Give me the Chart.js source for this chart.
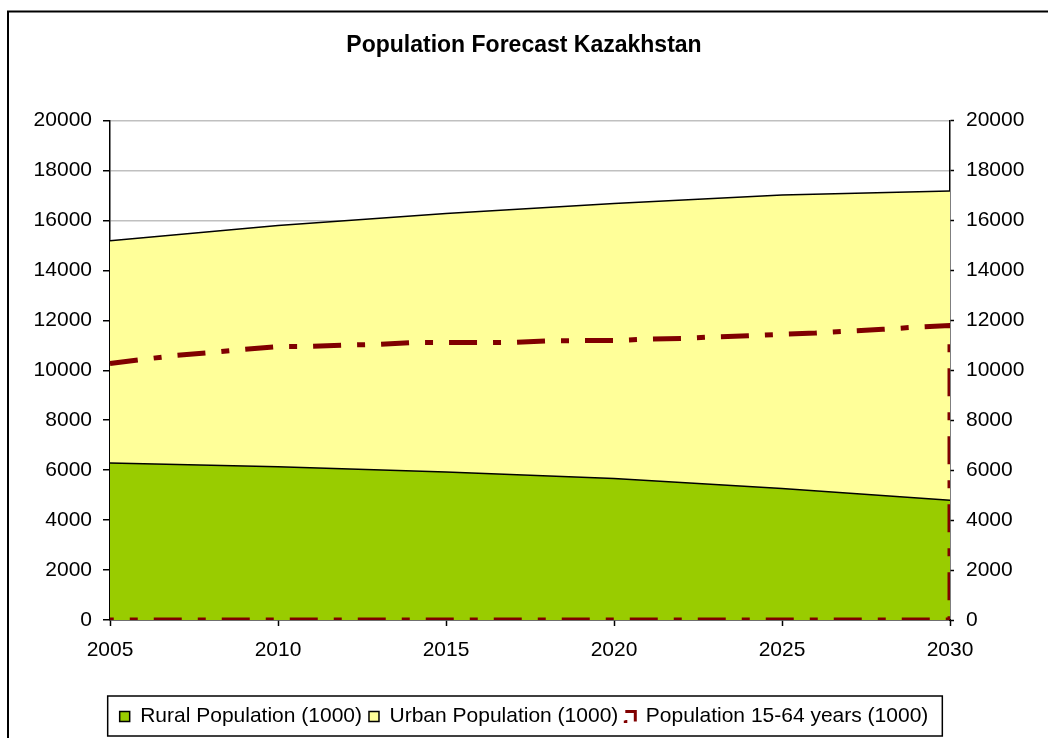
<!DOCTYPE html>
<html lang="en">
<head>
  <meta charset="UTF-8">
  <title>Population Forecast Kazakhstan</title>
  <script src="https://cdn.jsdelivr.net/npm/chart.js"></script>
  <style>
    body {
      margin: 0;
      padding: 0;
      background: #fff;
    }
    canvas {
      display: block;
    }
  </style>
</head>
<body>
  <canvas id="popChart" width="1048" height="738"></canvas>

  <script>
    // Five-year points for the stacked areas
    const areaYears = [2005, 2010, 2015, 2020, 2025, 2030];
    const ruralPop = [6290, 6140, 5930, 5670, 5270, 4800];
    const urbanPop = [8900, 9660, 10350, 11010, 11750, 12380];

    // Yearly points for the working-age line
    const workYears = [2005, 2006, 2007, 2008, 2009, 2010, 2011, 2012, 2013, 2014, 2015, 2016, 2017,
      2018, 2019, 2020, 2021, 2022, 2023, 2024, 2025, 2026, 2027, 2028, 2029, 2030];
    const workPop = [10270, 10440, 10600, 10710, 10840, 10950, 10960, 11010, 11040, 11110, 11110, 11110, 11120,
      11180, 11190, 11190, 11250, 11270, 11340, 11380, 11440, 11490, 11570, 11640, 11730, 11790];

    const yTicks = [0, 2000, 4000, 6000, 8000, 10000, 12000, 14000, 16000, 18000, 20000];
    const xTicks = [2005, 2010, 2015, 2020, 2025, 2030];

    const FONT = "'Liberation Sans', Arial, sans-serif";

    // Excel draws the unfilled area's border all the way round, so close it along the base
    const workPoints = workYears.map((x, i) => ({ x, y: workPop[i] }));
    workPoints.push({ x: workYears[workYears.length - 1], y: 0 });
    workPoints.push({ x: workYears[0], y: 0 });

    const outerFrame = {
      id: 'outerFrame',
      beforeDraw(chart) {
        const c = chart.ctx;
        c.save();
        c.strokeStyle = '#000';
        c.lineWidth = 2;
        c.strokeRect(8, 11.5, 1100, 800);
        c.restore();
      }
    };

    const legendFrame = {
      id: 'legendFrame',
      afterDraw(chart) {
        const boxes = chart.legend.legendHitBoxes;
        if (!boxes || !boxes.length) return;
        const left = Math.min(...boxes.map(b => b.left));
        const right = Math.max(...boxes.map(b => b.left + b.width));
        const c = chart.ctx;
        c.save();
        c.strokeStyle = '#000';
        c.lineWidth = 1.5;
        c.strokeRect(left - 12, chart.legend.top - 3, right - left + 26, 40);
        c.restore();
      }
    };

    const ctx = document.getElementById('popChart').getContext('2d');
    new Chart(ctx, {
      type: 'line',
      data: {
        datasets: [
          {
            label: 'Rural Population (1000)',
            data: areaYears.map((x, i) => ({ x, y: ruralPop[i] })),
            yAxisID: 'y',
            fill: 'origin',
            backgroundColor: '#99CC00',
            borderColor: '#000',
            borderWidth: 1.5,
            pointRadius: 0,
            order: 0,
          },
          {
            label: 'Urban Population (1000)',
            data: areaYears.map((x, i) => ({ x, y: urbanPop[i] })),
            yAxisID: 'y',
            fill: '-1',
            backgroundColor: '#FFFF99',
            borderColor: '#000',
            borderWidth: 1.5,
            pointRadius: 0,
            order: 0,
          },
          {
            label: 'Population 15-64 years (1000)',
            data: workPoints,
            yAxisID: 'y2',
            fill: false,
            backgroundColor: 'rgba(0,0,0,0)',
            borderColor: '#800000',
            borderWidth: 5,
            borderDash: [28, 16, 8, 16],
            borderCapStyle: 'butt',
            pointRadius: 0,
            clip: { left: 10, top: 10, right: 0, bottom: 0 },
            order: -1,
          },
        ],
      },
      options: {
        responsive: false,
        animation: false,
        events: [],
        layout: { padding: { left: 0, right: 0, top: 0, bottom: 1 } },
        plugins: {
          tooltip: { enabled: false },
          title: {
            display: true,
            text: 'Population Forecast Kazakhstan',
            color: '#000',
            font: { family: FONT, size: 23, weight: 'bold' },
            padding: { top: 32, bottom: 61 },
          },
          legend: {
            display: true,
            position: 'bottom',
            labels: {
              color: '#000',
              font: { family: FONT, size: 21 },
              boxWidth: 10,
              boxHeight: 10,
              padding: 7,
              sort: (a, b) => a.datasetIndex - b.datasetIndex,
              generateLabels(chart) {
                const items = Chart.defaults.plugins.legend.labels.generateLabels(chart);
                items.forEach(it => {
                  if (it.datasetIndex === 2) {
                    it.lineWidth = 3;
                    it.lineDash = [20, 8, 3, 9];
                    it.fillStyle = 'rgba(0,0,0,0)';
                  }
                });
                return items;
              },
            },
          },
        },
        scales: {
          x: {
            type: 'linear',
            min: 2005,
            max: 2030,
            afterFit(scale) { scale.height = 79; },
            afterBuildTicks(scale) { scale.ticks = xTicks.map(v => ({ value: v })); },
            ticks: {
              color: '#000',
              font: { family: FONT, size: 21 },
              padding: 12,
              maxRotation: 0,
              callback: v => String(v),
            },
            grid: { drawOnChartArea: false, drawTicks: true, tickLength: 6, tickColor: '#000', tickWidth: 1.5 },
            border: { color: '#000', width: 1.5 },
          },
          y: {
            position: 'left',
            stacked: true,
            min: 0,
            max: 20000,
            afterFit(scale) { scale.width = 110; },
            afterBuildTicks(scale) { scale.ticks = yTicks.map(v => ({ value: v })); },
            ticks: {
              color: '#000',
              font: { family: FONT, size: 21 },
              padding: 11,
              callback: v => String(v),
            },
            grid: { color: '#c0c0c0', lineWidth: 1.5, tickLength: 7, tickColor: '#000', tickWidth: 1.5 },
            border: { color: '#000', width: 1.5 },
          },
          y2: {
            position: 'right',
            min: 0,
            max: 20000,
            afterFit(scale) { scale.width = 98; },
            afterBuildTicks(scale) { scale.ticks = yTicks.map(v => ({ value: v })); },
            ticks: {
              color: '#000',
              font: { family: FONT, size: 21 },
              padding: 12,
              callback: v => String(v),
            },
            grid: { drawOnChartArea: false, tickLength: 4, tickColor: '#000', tickWidth: 1.5 },
            border: { color: '#000', width: 1.5 },
          },
        },
      },
      plugins: [outerFrame, legendFrame],
    });
  </script>
</body>
</html>
